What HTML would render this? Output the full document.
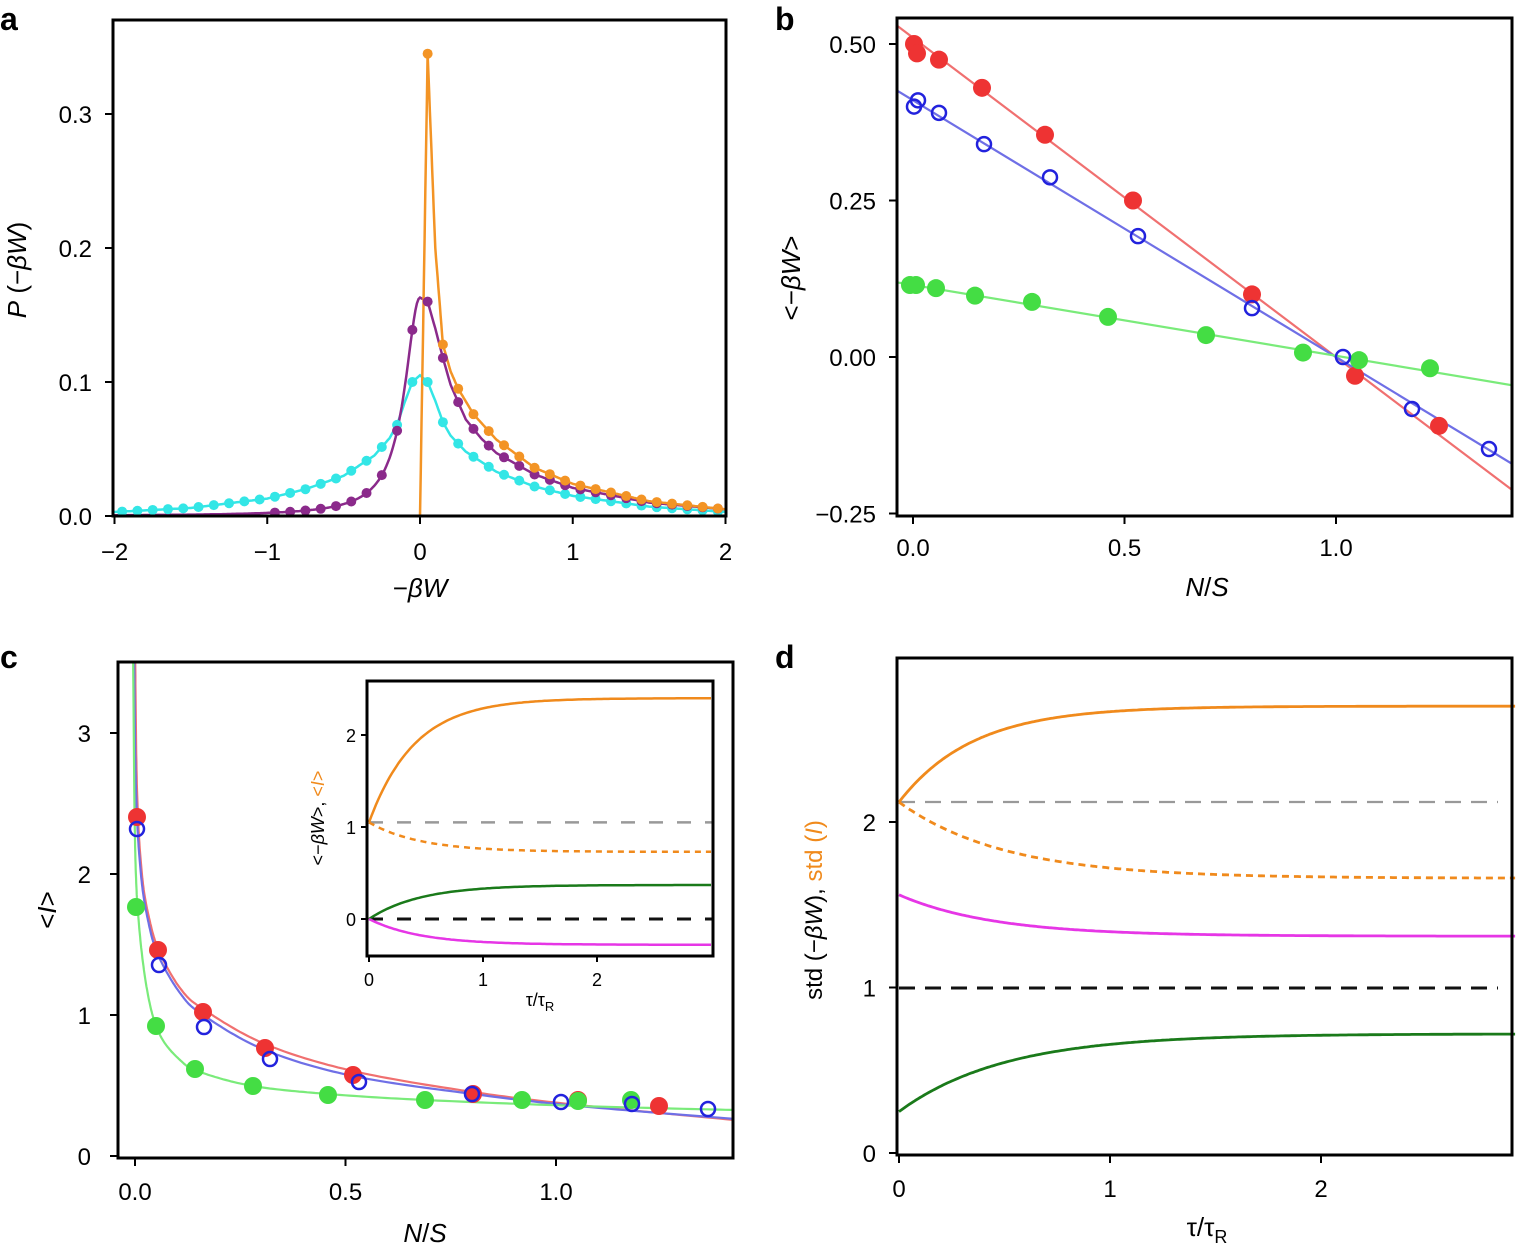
<!DOCTYPE html>
<html><head><meta charset="utf-8">
<style>
html,body{margin:0;padding:0;background:#fff;}
svg{display:block;font-family:"Liberation Sans",sans-serif;}
</style></head>
<body>
<svg id="s" width="1519" height="1244" viewBox="0 0 1519 1244" xmlns="http://www.w3.org/2000/svg"></svg>
<script>
const S=document.getElementById('s');let h='';
function P(pts){return pts.map((p,i)=>(i?'L':'M')+p[0].toFixed(1)+' '+p[1].toFixed(1)).join('');}
function line(pts,c,w,dash){h+=`<path d="${P(pts)}" fill="none" stroke="${c}" stroke-width="${w}" ${dash?'stroke-dasharray="'+dash+'"':''}/>`;}
function txt(x,y,t,sz,anc,extra){h+=`<text x="${x}" y="${y}" font-size="${sz}" text-anchor="${anc||'middle'}" ${extra||''}>${t}</text>`;}
function interp(tab,x){if(x<=tab[0][0])return tab[0][1];for(let i=1;i<tab.length;i++){if(x<=tab[i][0]){const a=tab[i-1],b=tab[i];return a[1]+(b[1]-a[1])*(x-a[0])/(b[0]-a[0]);}}return tab[tab.length-1][1];}
function dot(x,y,c,r){h+=`<circle cx="${x}" cy="${y}" r="${r}" fill="${c}"/>`;}
function ring(x,y,c){h+=`<circle cx="${x}" cy="${y}" r="7" fill="none" stroke="${c}" stroke-width="2.5"/>`;}
// ---------- Panel a
{const X=v=>420+v*152.75, Y=v=>516-v*1340;
h+=`<defs><clipPath id="ca"><rect x="113" y="20" width="613" height="496"/></clipPath><clipPath id="cb"><rect x="897" y="18" width="615" height="498"/></clipPath><clipPath id="cc"><rect x="118" y="662" width="615" height="496"/></clipPath></defs>`;
const orT=[[0.05,0.345],[0.1,0.2],[0.15,0.128],[0.2,0.108],[0.25,0.095],[0.35,0.076],[0.5,0.057],[0.75,0.036],[1,0.024],[1.5,0.011],[2,0.005]];
const puR=[[0,0.163],[0.05,0.16],[0.1,0.14],[0.15,0.118],[0.2,0.098],[0.3,0.072],[0.4,0.058],[0.5,0.047],[0.75,0.031],[1,0.021],[1.5,0.01],[2,0.005]];
const cyR=[[0,0.105],[0.05,0.1],[0.1,0.086],[0.15,0.07],[0.2,0.06],[0.3,0.048],[0.5,0.033],[0.75,0.022],[1,0.015],[1.5,0.007],[2,0.003]];
const cyL=[[-2,0.003],[-1.5,0.006],[-1,0.013],[-0.75,0.02],[-0.5,0.03],[-0.3,0.045],[-0.2,0.058],[-0.15,0.068],[-0.1,0.085],[-0.05,0.1],[0,0.105]];
const pu=x=>x<0?0.163/(1+Math.pow(x/0.12,2)):interp(puR,x);
const cy=x=>x<0?interp(cyL,x):interp(cyR,x);
const orf=x=>x<0?0:(x<0.05?0.345*x/0.05:interp(orT,x));
h+='<g clip-path="url(#ca)">';
let pts=[];for(let x=-2;x<=2.001;x+=0.01)pts.push([X(x),Y(cy(x))]);line(pts,'#33e6e6',2.5);
pts=[];for(let x=-2;x<=2.001;x+=0.01)pts.push([X(x),Y(pu(x))]);line(pts,'#8b2a8b',2.5);
pts=[[X(-2),Y(0)],[X(0),Y(0)]];for(let x=0.005;x<=2.001;x+=0.005)pts.push([X(x),Y(orf(x))]);line(pts,'#f39425',2.5);
for(let x=-1.95;x<2;x+=0.1)dot(X(x),Y(cy(x)),'#33e6e6',5);
for(let x=-0.95;x<2;x+=0.1)dot(X(x),Y(pu(x)),'#8b2a8b',5);
for(let x=0.05;x<2;x+=0.1)dot(X(x),Y(orf(x)),'#f39425',5);
h+='</g>';
h+=`<rect x="113" y="20" width="613" height="496" fill="none" stroke="#000" stroke-width="3"/>`;
[-2,-1,0,1,2].forEach(v=>{h+=`<line x1="${X(v)}" y1="516" x2="${X(v)}" y2="524" stroke="#000" stroke-width="2"/>`;txt(X(v),560,v<0?'\u2212'+(-v):v,24);});
[[0,'0.0'],[0.1,'0.1'],[0.2,'0.2'],[0.3,'0.3']].forEach(a=>{h+=`<line x1="105" y1="${Y(a[0])}" x2="113" y2="${Y(a[0])}" stroke="#000" stroke-width="2"/>`;txt(92,Y(a[0])+9,a[1],24,'end');});
txt(420,597,'\u2212<tspan font-style="italic">βW</tspan>',26);
h+=`<text transform="translate(26,270) rotate(-90)" font-size="26" text-anchor="middle"><tspan font-style="italic">P</tspan> (\u2212<tspan font-style="italic">βW</tspan>)</text>`;
txt(0,30,'a',32,'start','font-weight="bold"');}
// ---------- Panel b
{const X=v=>913+v*423, Y=v=>357-v*626;
h+='<g clip-path="url(#cb)">';
line([[X(-0.05),Y(0.51+0.05*0.51)],[X(1.45),Y(0.51-1.45*0.51)]],'#f07070',2.2);
line([[X(-0.05),Y(0.41+0.05*0.41)],[X(1.45),Y(0.41-1.45*0.41)]],'#6f6fe6',2.2);
line([[X(-0.05),Y(0.115+0.05*0.113)],[X(1.45),Y(0.115-1.45*0.113)]],'#7aeb7a',2.2);
[[914,0.5],[917,0.485],[939,0.475],[982,0.43],[1045,0.355],[1133,0.25],[1252,0.1],[1355,-0.03],[1439,-0.11]].forEach(p=>dot(p[0],Y(p[1]),'#ee3333',9));
[[910,0.115],[916,0.115],[936,0.11],[975,0.098],[1032,0.088],[1108,0.064],[1206,0.035],[1303,0.007],[1359,-0.005],[1430,-0.018]].forEach(p=>dot(p[0],Y(p[1]),'#44dd44',9));
[[914,0.40],[918,0.41],[939,0.39],[984,0.34],[1050,0.287],[1138,0.193],[1252,0.078],[1343,0.0],[1412,-0.083],[1489,-0.147]].forEach(p=>ring(p[0],Y(p[1]),'#2222dd'));
h+='</g>';
h+=`<rect x="897" y="18" width="615" height="498" fill="none" stroke="#000" stroke-width="3"/>`;
[[0,'0.0'],[0.5,'0.5'],[1,'1.0']].forEach(a=>{h+=`<line x1="${X(a[0])}" y1="516" x2="${X(a[0])}" y2="524" stroke="#000" stroke-width="2"/>`;txt(X(a[0]),556,a[1],24);});
[[0.5,'0.50'],[0.25,'0.25'],[0,'0.00'],[-0.25,'\u22120.25']].forEach(a=>{h+=`<line x1="889" y1="${Y(a[0])}" x2="897" y2="${Y(a[0])}" stroke="#000" stroke-width="2"/>`;txt(876,Y(a[0])+9,a[1],24,'end');});
txt(1207,596,'<tspan font-style="italic">N</tspan>/<tspan font-style="italic">S</tspan>',26);
h+=`<text transform="translate(800,278) rotate(-90)" font-size="26" text-anchor="middle">&lt;\u2212<tspan font-style="italic">βW</tspan>&gt;</text>`;
txt(775,30,'b',32,'start','font-weight="bold"');}
// ---------- Panel c
{const X=v=>135+v*421, Y=v=>1156-v*141;
function cr(ps){let out=[];for(let i=0;i<ps.length-1;i++){const p0=ps[Math.max(0,i-1)],p1=ps[i],p2=ps[i+1],p3=ps[Math.min(ps.length-1,i+2)];for(let t=0;t<1;t+=0.05){const t2=t*t,t3=t2*t;const f=(a,b,c,d)=>0.5*((2*b)+(-a+c)*t+(2*a-5*b+4*c-d)*t2+(-a+3*b-3*c+d)*t3);out.push([f(p0[0],p1[0],p2[0],p3[0]),f(p0[1],p1[1],p2[1],p3[1])]);}}out.push(ps[ps.length-1]);return out;}
h+='<g clip-path="url(#cc)">';
line(cr([[135,640],[137,790],[142,875],[150,922],[160,953],[180,988],[203,1009],[265,1044],[353,1071],[473,1092],[578,1105],[735,1120]]),'#f07070',2.2);
line(cr([[134,640],[136,790],[141,875],[149,925],[159,957],[180,993],[203,1015],[265,1050],[353,1076],[473,1094],[578,1106],[735,1119]]),'#6f6fe6',2.2);
line(cr([[133,640],[135,840],[139,925],[148,995],[160,1035],[180,1060],[200,1072],[253,1086],[328,1094],[425,1100],[578,1106],[735,1110]]),'#7aeb7a',2.2);
[[137,817],[158,950],[203,1012],[265,1048],[353,1075],[473,1094],[578,1100],[659,1106]].forEach(p=>dot(p[0],p[1],'#ee3333',9));
[[136,907],[156,1026],[195,1069],[253,1086],[328,1095],[425,1100],[522,1100],[578,1101],[631,1100]].forEach(p=>dot(p[0],p[1],'#44dd44',9));
[[137,829],[159,965],[204,1027],[270,1059],[359,1082],[472,1094],[561,1102],[632,1104],[708,1109]].forEach(p=>ring(p[0],p[1],'#2222dd'));
h+='</g>';
h+=`<rect x="118" y="662" width="615" height="496" fill="none" stroke="#000" stroke-width="3"/>`;
[[0,'0.0'],[0.5,'0.5'],[1,'1.0']].forEach(a=>{h+=`<line x1="${X(a[0])}" y1="1158" x2="${X(a[0])}" y2="1166" stroke="#000" stroke-width="2"/>`;txt(X(a[0]),1200,a[1],24);});
[0,1,2,3].forEach(v=>{h+=`<line x1="110" y1="${Y(v)}" x2="118" y2="${Y(v)}" stroke="#000" stroke-width="2"/>`;txt(91,Y(v)+9,v,24,'end');});
txt(425,1242,'<tspan font-style="italic">N</tspan>/<tspan font-style="italic">S</tspan>',26);
h+=`<text transform="translate(56,910) rotate(-90)" font-size="26" text-anchor="middle">&lt;<tspan font-style="italic">I</tspan>&gt;</text>`;
txt(0,668,'c',32,'start','font-weight="bold"');
// inset
const IX=v=>369+v*114, IY=v=>919-v*92;
h+=`<rect x="367" y="681" width="346" height="275" fill="#fff"/>`;
const fn=(a,b,tau)=>{let p=[];for(let t=0;t<=3.02;t+=0.02)p.push([IX(t),IY(b+(a-b)*Math.exp(-t/tau))]);return p;};
line([[IX(0),IY(1.05)],[712,IY(1.05)]],'#999',2.5,'14 14');
line([[IX(0),IY(0)],[712,IY(0)]],'#111',3,'14 14');
line(fn(1.05,2.4,0.4),'#f08a1c',2.5);
line(fn(1.05,0.73,0.45),'#f08a1c',2.5,'6 5');
line(fn(0,0.37,0.45),'#1a7a1a',2.5);
line(fn(0,-0.28,0.45),'#e636e6',2.5);
h+=`<rect x="367" y="681" width="346" height="275" fill="none" stroke="#000" stroke-width="3"/>`;
[0,1,2].forEach(v=>{h+=`<line x1="${IX(v)}" y1="956" x2="${IX(v)}" y2="962" stroke="#000" stroke-width="2"/>`;txt(IX(v),986,v,18);h+=`<line x1="361" y1="${IY(v)}" x2="367" y2="${IY(v)}" stroke="#000" stroke-width="2"/>`;txt(356,IY(v)+7,v,18,'end');});
txt(540,1006,'τ/τ<tspan font-size="13" dy="5">R</tspan>',18);
h+=`<text transform="translate(324,818) rotate(-90)" font-size="18" text-anchor="middle">&lt;\u2212<tspan font-style="italic">βW</tspan>&gt;, <tspan fill="#f08a1c">&lt;<tspan font-style="italic">I</tspan>&gt;</tspan></text>`;}
// ---------- Panel d
{const X=v=>899+v*211, Y=v=>1153-v*165.5;
const fn=(a,b,tau)=>{let p=[];for(let t=0;t<=2.92;t+=0.01)p.push([X(t),Y(b+(a-b)*Math.exp(-t/tau))]);return p;};
line([[899,802],[1498,802]],'#999',2.2,'16 10');
line([[899,988],[1498,988]],'#111',3,'16 10');
line(fn(2.12,2.7,0.35),'#f08a1c',2.8);
line(fn(2.12,1.66,0.5),'#f08a1c',2.8,'7 5');
line(fn(1.56,1.31,0.45),'#e636e6',2.8);
line(fn(0.25,0.72,0.5),'#1a7a1a',2.8);
h+=`<rect x="897" y="658" width="615" height="497" fill="none" stroke="#000" stroke-width="3"/>`;
[0,1,2].forEach(v=>{h+=`<line x1="${X(v)}" y1="1155" x2="${X(v)}" y2="1163" stroke="#000" stroke-width="2"/>`;txt(X(v),1197,v,24);});
[0,1,2].forEach(v=>{h+=`<line x1="889" y1="${Y(v)}" x2="897" y2="${Y(v)}" stroke="#000" stroke-width="2"/>`;txt(876,Y(v)+9,v,24,'end');});
txt(1207,1236,'τ/τ<tspan font-size="18" dy="7">R</tspan>',26);
h+=`<text transform="translate(822,910) rotate(-90)" font-size="24" text-anchor="middle">std (\u2212<tspan font-style="italic">βW</tspan>), <tspan fill="#f08a1c">std (<tspan font-style="italic">I</tspan>)</tspan></text>`;
txt(775,668,'d',32,'start','font-weight="bold"');}
S.innerHTML=h;
</script>
</body></html>
